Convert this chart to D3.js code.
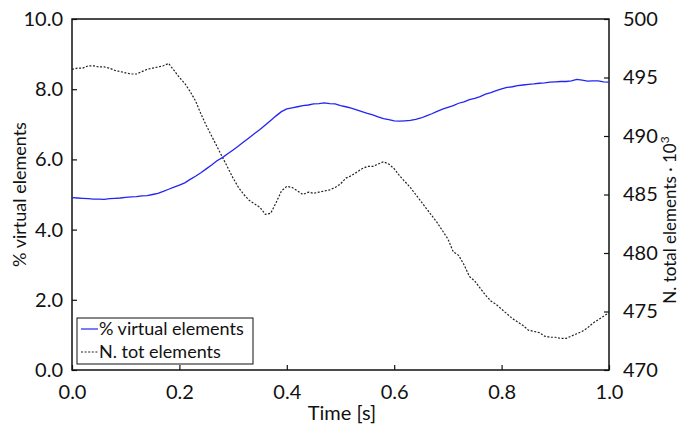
<!DOCTYPE html>
<html>
<head>
<meta charset="utf-8">
<script src="https://cdn.jsdelivr.net/npm/d3@7"></script>
<style>
  html, body { margin: 0; padding: 0; background: #fff; }
  svg { display: block; font-family: Lato, "Open Sans", sans-serif; }
</style>
</head>
<body>
<svg id="chart" width="681" height="426"></svg>
<script>
// Simulation time samples [s]
const timeSec = d3.range(0, 101).map(i => i / 100);

// Share of virtual elements [%] (left axis)
const virtualPct = [
  4.91, 4.90, 4.89, 4.88, 4.87, 4.87, 4.86, 4.88, 4.89, 4.90,
  4.92, 4.93, 4.94, 4.96, 4.97, 5.00, 5.03, 5.09, 5.15, 5.21,
  5.27, 5.33, 5.43, 5.52, 5.62, 5.73, 5.84, 5.96, 6.05, 6.16,
  6.27, 6.38, 6.50, 6.62, 6.74, 6.85, 6.98, 7.11, 7.24, 7.36,
  7.44, 7.47, 7.50, 7.53, 7.55, 7.58, 7.59, 7.61, 7.59, 7.58,
  7.53, 7.50, 7.46, 7.41, 7.36, 7.31, 7.27, 7.21, 7.16, 7.13,
  7.10, 7.09, 7.10, 7.11, 7.14, 7.18, 7.24, 7.30, 7.37, 7.43,
  7.48, 7.53, 7.60, 7.64, 7.70, 7.74, 7.79, 7.86, 7.90, 7.96,
  8.01, 8.05, 8.07, 8.10, 8.12, 8.14, 8.15, 8.17, 8.18, 8.20,
  8.21, 8.22, 8.22, 8.24, 8.28, 8.26, 8.23, 8.24, 8.24, 8.21,
  8.20
];

// Total number of elements, thousands (right axis)
const totalElemK = [
  495.7, 495.8, 495.8, 496.0, 496.0, 495.9, 495.9, 495.8, 495.6, 495.5,
  495.4, 495.3, 495.3, 495.5, 495.7, 495.8, 495.9, 496.0, 496.2, 495.6,
  495.0, 494.5, 493.8, 493.0, 491.9, 490.9, 490.0, 489.1, 488.2, 487.3,
  486.4, 485.6, 485.0, 484.5, 484.2, 483.9, 483.3, 483.4, 484.3, 485.3,
  485.7, 485.6, 485.3, 485.0, 485.2, 485.1, 485.2, 485.3, 485.4, 485.6,
  485.9, 486.4, 486.6, 486.9, 487.2, 487.4, 487.4, 487.6, 487.8, 487.6,
  487.2, 486.6, 486.1, 485.6, 485.0, 484.4, 483.8, 483.2, 482.6, 481.9,
  481.2, 480.1, 479.8, 479.0, 478.0, 477.6, 477.0, 476.4, 475.9, 475.6,
  475.2, 474.8, 474.4, 474.1, 473.8, 473.4, 473.3, 473.2, 472.9, 472.8,
  472.8, 472.7, 472.7, 472.9, 473.1, 473.3, 473.6, 474.0, 474.3, 474.6,
  474.9
];

// Tick values
const xTicks = [0, 0.2, 0.4, 0.6, 0.8, 1.0];
const leftTicks = [0, 2, 4, 6, 8, 10];
const rightTicks = [470, 475, 480, 485, 490, 495, 500];

const legendLabels = ["% virtual elements", "N. tot elements"];

const svg = d3.select("#chart");
const m = { left: 72, right: 609, top: 19, bottom: 370 };

const x = d3.scaleLinear().domain([0, 1]).range([m.left, m.right]);
const yL = d3.scaleLinear().domain([0, 10]).range([m.bottom, m.top]);
const yR = d3.scaleLinear().domain([470, 500]).range([m.bottom, m.top]);

const tickFont = 20;

// Frame
svg.append("rect")
  .attr("x", m.left).attr("y", m.top)
  .attr("width", m.right - m.left).attr("height", m.bottom - m.top)
  .attr("fill", "none").attr("stroke", "#111").attr("stroke-width", 1.5);

// Axes (ticks point into the plot)
function styleAxis(g) {
  g.select(".domain").remove();
  g.selectAll(".tick line").attr("stroke", "#111").attr("stroke-width", 1.2);
  g.selectAll(".tick text").attr("font-size", tickFont).attr("fill", "#111")
    .attr("font-family", "Lato, 'Open Sans', sans-serif");
}

svg.append("g")
  .attr("transform", `translate(0,${m.bottom})`)
  .call(d3.axisBottom(x).tickValues(xTicks).tickFormat(d3.format(".1f"))
    .tickSizeInner(-5).tickSizeOuter(0).tickPadding(15))
  .call(styleAxis);

svg.append("g")
  .attr("transform", `translate(${m.left},0)`)
  .call(d3.axisLeft(yL).tickValues(leftTicks).tickFormat(d3.format(".1f"))
    .tickSizeInner(-5).tickSizeOuter(0).tickPadding(9))
  .call(styleAxis);

svg.append("g")
  .attr("transform", `translate(${m.right},0)`)
  .call(d3.axisRight(yR).tickValues(rightTicks).tickFormat(d3.format("d"))
    .tickSizeInner(-5).tickSizeOuter(0).tickPadding(14))
  .call(styleAxis);

// Axis titles
svg.append("text")
  .attr("x", 342).attr("y", 420)
  .attr("text-anchor", "middle").attr("font-size", 20).attr("fill", "#111")
  .text("Time [s]");

svg.append("text")
  .attr("transform", `translate(26,${(m.top + m.bottom) / 2}) rotate(-90)`)
  .attr("text-anchor", "middle").attr("font-size", 18).attr("fill", "#111")
  .text("% virtual elements");

const rt = svg.append("text")
  .attr("transform", `translate(676,220) rotate(-90)`)
  .attr("text-anchor", "middle").attr("font-size", 17).attr("fill", "#111");
rt.append("tspan").text("N. total elements · 10");
rt.append("tspan").attr("dy", -7).attr("font-size", 12).text("3");

// Series
const blueLine = d3.line().x((d, i) => x(timeSec[i])).y(d => yL(d));
const blackLine = d3.line().x((d, i) => x(timeSec[i])).y(d => yR(d));

svg.append("path").datum(totalElemK)
  .attr("d", blackLine).attr("fill", "none")
  .attr("stroke", "#222").attr("stroke-width", 1.2)
  .attr("stroke-dasharray", "2,1.6");

svg.append("path").datum(virtualPct)
  .attr("d", blueLine).attr("fill", "none")
  .attr("stroke", "#2424f2").attr("stroke-width", 1.3);

// Legend
const lg = svg.append("g").attr("transform", "translate(77,318)");
lg.append("rect").attr("width", 176).attr("height", 46)
  .attr("fill", "#fff").attr("stroke", "#111").attr("stroke-width", 1);
const legendStyles = [
  { stroke: "#2424f2", dash: null },
  { stroke: "#222", dash: "2,1.6" }
];
legendLabels.forEach((lab, i) => {
  const cy = 11 + i * 23;
  lg.append("line").attr("x1", 4).attr("x2", 21).attr("y1", cy).attr("y2", cy)
    .attr("stroke", legendStyles[i].stroke).attr("stroke-width", 1.2)
    .attr("stroke-dasharray", legendStyles[i].dash);
  lg.append("text").attr("x", 22).attr("y", cy + 6)
    .attr("font-size", 18).attr("fill", "#111").text(lab);
});
</script>
</body>
</html>
